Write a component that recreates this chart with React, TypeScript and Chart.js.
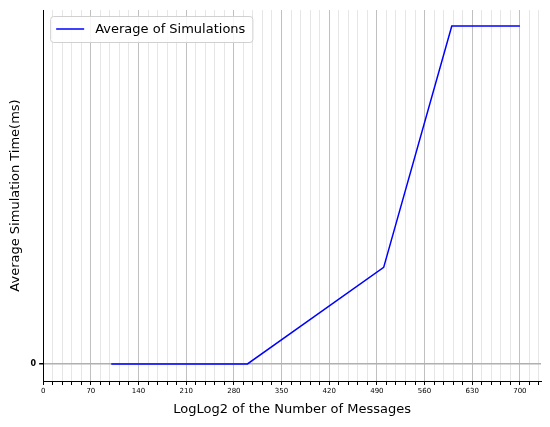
import { useEffect, useRef } from "react";
import { Chart, registerables } from "chart.js";

Chart.register(...registerables);

const xValues = [100, 300, 500, 600, 700];
const avgTime = [0, 0, 1.0, 3.5, 3.5];
const seriesLabel = "Average of Simulations";

const legendBox = {
  id: "legendBox",
  afterDraw(chart: any) {
    const { ctx, chartArea } = chart;
    const ds = chart.data.datasets[0];
    ctx.save();
    ctx.font = "13px 'DejaVu Sans'";
    const w = ctx.measureText(ds.label).width + 52;
    const x = chartArea.left + 7, y = chartArea.top + 6, h = 26;
    ctx.fillStyle = "rgba(255,255,255,0.85)";
    ctx.strokeStyle = "#d0d0d0";
    ctx.lineWidth = 1;
    ctx.beginPath();
    ctx.roundRect(x + 0.5, y + 0.5, w, h, 3);
    ctx.fill();
    ctx.stroke();
    ctx.strokeStyle = ds.borderColor;
    ctx.lineWidth = 1.5;
    ctx.beginPath();
    ctx.moveTo(x + 6, y + h / 2);
    ctx.lineTo(x + 34, y + h / 2);
    ctx.stroke();
    ctx.fillStyle = "#000";
    ctx.textBaseline = "middle";
    ctx.fillText(ds.label, x + 45, y + h / 2 + 1);
    ctx.restore();
  },
};

export default function App() {
  const ref = useRef<HTMLCanvasElement>(null);
  useEffect(() => {
    if (!ref.current) return;
    document.body.style.margin = "0";
    const chart = new Chart(ref.current, {
      type: "line",
      data: {
        datasets: [
          {
            label: seriesLabel,
            data: xValues.map((x, i) => ({ x, y: avgTime[i] })),
            borderColor: "#0000ff",
            borderWidth: 1.5,
            pointRadius: 0,
            tension: 0,
          },
        ],
      },
      options: {
        animation: false,
        responsive: false,
        layout: { padding: { top: 10, right: 9, left: 4, bottom: 6 } },
        plugins: { legend: { display: false }, tooltip: { enabled: false } },
        scales: {
          x: {
            type: "linear",
            min: 0,
            max: 731,
            afterBuildTicks: (axis: any) => {
              const t = [];
              for (let v = 0; v <= 728; v += 14) t.push({ value: v });
              axis.ticks = t;
            },
            ticks: {
              autoSkip: false,
              maxRotation: 0,
              color: "#000",
              font: { family: "DejaVu Sans", size: 7 },
              padding: 2,
              callback: (v: any) => (v % 70 === 0 ? String(v) : ""),
            },
            grid: {
              color: (c: any) =>
                c.tick && c.tick.value % 70 === 0 ? "#c0c0c0" : "#e6e6e6",
              tickColor: "#000",
              tickLength: 4,
            },
            border: { color: "#000", width: 1 },
            title: {
              display: true,
              text: "LogLog2 of the Number of Messages",
              color: "#000",
              font: { family: "DejaVu Sans", size: 13 },
              padding: { top: 4 },
            },
          },
          y: {
            min: -0.177,
            max: 3.667,
            afterBuildTicks: (axis: any) => {
              axis.ticks = [{ value: 0 }];
            },
            ticks: {
              color: "#000",
              font: { family: "DejaVu Sans", size: 8, weight: "bold" },
              padding: 3,
            },
            grid: { color: "#b0b0b0", tickColor: "#000", tickLength: 4, lineWidth: 1.5 },
            border: { color: "#000", width: 1 },
            title: {
              display: true,
              text: "Average Simulation Time(ms)",
              color: "#000",
              font: { family: "DejaVu Sans", size: 13 },
              padding: { bottom: 4 },
            },
          },
        },
      },
      plugins: [legendBox],
    });
    return () => chart.destroy();
  }, []);
  return <canvas ref={ref} width={550} height={427} style={{ display: "block" }} />;
}
